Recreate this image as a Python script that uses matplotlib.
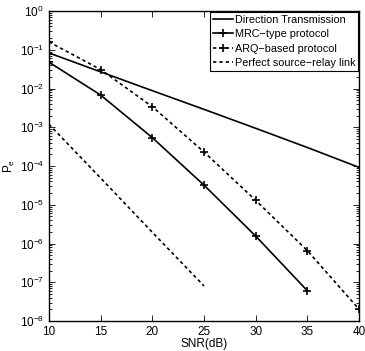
import numpy as np
import matplotlib
matplotlib.use("Agg")
import matplotlib.pyplot as plt

plt.rcParams['font.family'] = ['Liberation Sans', 'DejaVu Sans']
plt.rcParams['mathtext.fontset'] = 'custom'
plt.rcParams['mathtext.rm'] = 'Liberation Sans'
plt.rcParams['mathtext.it'] = 'Liberation Sans'

snr = [10, 15, 20, 25, 30, 35, 40]
direct = [8.3e-2, 2.7e-2, 8.8e-3, 2.9e-3, 9.4e-4, 3.0e-4, 9.2e-5]
snr_mrc = [10, 15, 20, 25, 30, 35]
mrc = [4.8e-2, 6.8e-3, 5.4e-4, 3.2e-5, 1.55e-6, 6.0e-8]
arq = [1.6e-1, 3.1e-2, 3.4e-3, 2.3e-4, 1.3e-5, 6.5e-7, 2.0e-8]
snr_perf = [10, 15, 20, 25]
perfect = [1.2e-3, 4.9e-5, 1.95e-6, 8.0e-8]

fig = plt.figure(figsize=(3.65, 3.51), dpi=100)
ax = fig.add_axes([0.134, 0.0855, 0.850, 0.883])

ax.semilogy(snr, direct, 'k-', lw=1.2, label='Direction Transmission')
ax.semilogy(snr_mrc, mrc, 'k-', lw=1.2, marker='+', ms=6, mew=1.2, label='MRC\u2212type protocol')
ax.semilogy(snr, arq, 'k--', lw=1.2, marker='+', ms=6, mew=1.2, dashes=(2.0, 1.8), label='ARQ\u2212based protocol')
ax.semilogy(snr_perf, perfect, 'k--', lw=1.2, dashes=(2.0, 1.8), label='Perfect source\u2212relay link')

ax.set_xlim(10, 40)
ax.set_ylim(1e-8, 1)
ax.set_xticks([10, 15, 20, 25, 30, 35, 40])
ax.set_yticks([10.0**k for k in range(-8, 1)])
ax.tick_params(which='both', direction='in', top=True, right=True, labelsize=8.5, width=0.6)
ax.tick_params(which='major', length=4)
ax.tick_params(which='minor', length=2)
for s in ax.spines.values():
    s.set_linewidth(1.0)

ax.set_xlabel('SNR(dB)', fontsize=8.5, labelpad=0)
ax.set_ylabel('P$_\\mathrm{e}$', fontsize=8.5, labelpad=2)

leg = ax.legend(loc='upper right', fontsize=7.8, handlelength=1.9, handletextpad=0.15,
                borderpad=0.25, labelspacing=0.4, fancybox=False, framealpha=1,
                edgecolor='k', borderaxespad=0.1)
leg.get_frame().set_linewidth(0.8)

fig.savefig('out.png', dpi=100)
